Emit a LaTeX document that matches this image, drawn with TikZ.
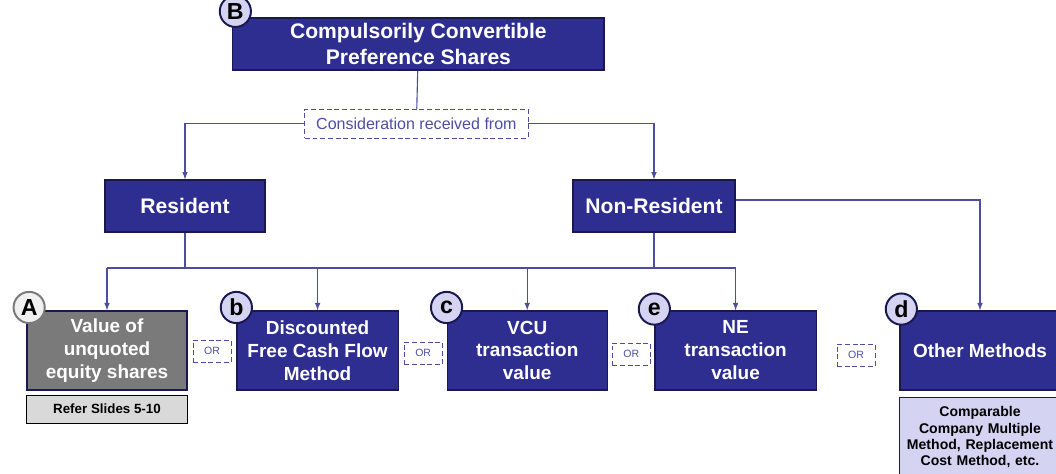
\documentclass[tikz,border=0pt]{standalone}
\usepackage{fontspec}
\setmainfont{Liberation Sans}
\usetikzlibrary{positioning}
\definecolor{navy}{RGB}{46,46,145}
\definecolor{navyline}{RGB}{25,25,80}
\definecolor{conn}{RGB}{78,78,160}
\definecolor{lav}{RGB}{212,212,242}
\definecolor{greybox}{RGB}{122,122,122}
\definecolor{lightgrey}{RGB}{217,217,217}
\tikzstyle{bluebox} = [rectangle,
fill=navy,
draw=navyline,
line width=0.9pt,
text=white,
align=center,
minimum width=4cm,
minimum height=1.975cm,
inner sep=1pt,
font=\bfseries\fontsize{13.5}{16.3}\selectfont]
\tikzstyle{notebox} = [rectangle,
draw=black,
line width=0.9pt,
align=center,
minimum width=4.03cm,
inner sep=1pt,
font=\bfseries\fontsize{9.5}{11.5}\selectfont]
\tikzstyle{dashbox} = [rectangle,
draw=conn,
line width=0.7pt,
dash pattern=on 3.5pt off 2pt,
text=conn]
\tikzstyle{tag} = [circle,
fill=lav,
draw=navyline,
line width=1.4pt,
minimum size=0.78cm,
inner sep=0pt,
font=\bfseries\fontsize{16.5}{16.5}\selectfont]
\tikzstyle{link} = [draw=conn, line width=0.8pt]

\begin{document}
\begin{tikzpicture}
		\useasboundingbox (0,0) rectangle (26.4,-11.825);
		\node (ccps) [bluebox, minimum width=9.28cm, minimum height=1.3cm, font=\bfseries\fontsize{15}{18.4}\selectfont] at (10.46,-1.1) {Compulsorily Convertible\\Preference Shares};
		\node (cons) [dashbox, minimum width=5.58cm, minimum height=0.72cm, font=\fontsize{11.4}{13}\selectfont] at (10.41,-3.09) {Consideration received from};
		\node (res) [bluebox, minimum height=1.3cm, font=\bfseries\fontsize{15}{18}\selectfont] at (4.625,-5.15) {Resident};
		\node (nres) [bluebox, minimum width=4.05cm, minimum height=1.3cm, font=\bfseries\fontsize{15}{18}\selectfont] at (16.35,-5.15) {Non-Resident};
		\coordinate (bus) at (0,-6.7);
		
		\node (vu) [bluebox, fill=greybox] at (2.675,-8.76) {Value of\\unquoted\\equity shares};
		\node (dcf) [bluebox, minimum width=4.03cm] at (7.94,-8.76) {Discounted\\Free Cash Flow\\Method};
		\node (vcu) [bluebox] at (13.18,-8.76) {VCU\\transaction\\value};
		\node (ne) [bluebox, minimum width=4.03cm] at (18.39,-8.76) {NE\\transaction\\value};
		\node (oth) [bluebox] at (24.5,-8.76) {Other Methods};
		
		\node (ref) [notebox, fill=lightgrey, minimum height=0.7cm, below=0.1cm of vu] {Refer Slides 5-10};
		\node (cmp) [notebox, fill=lav, draw=navyline, text width=3.9cm, minimum height=2cm, below=0.15cm of oth, font=\bfseries\fontsize{10}{11.5}\selectfont] {Comparable\\Company Multiple\\Method, Replacement\\Cost Method, etc.};
		
		\node (or1) [dashbox, minimum width=0.95cm, minimum height=0.55cm, font=\fontsize{7.5}{8}\selectfont] at (5.3,-8.78) {OR};
		\node (or2) [dashbox, minimum width=0.95cm, minimum height=0.55cm, font=\fontsize{7.5}{8}\selectfont] at (10.58,-8.83) {OR};
		\node (or3) [dashbox, minimum width=0.95cm, minimum height=0.55cm, font=\fontsize{7.5}{8}\selectfont] at (15.78,-8.85) {OR};
		\node (or4) [dashbox, minimum width=0.95cm, minimum height=0.55cm, font=\fontsize{7.5}{8}\selectfont] at (21.4,-8.88) {OR};
		
		\node (tb) [tag, xshift=0.08cm, yshift=0.15cm] at (ccps.north west) {B};
		\node (ta) [tag, fill=white!94!black, draw=greybox, xshift=0.07cm, yshift=0.07cm] at (vu.north west) {A};
		\node (tbb) [tag, yshift=0.07cm] at (dcf.north west) {b};
		\node (tc) [tag, yshift=0.07cm] at (vcu.north west) {c};
		\node (te) [tag, yshift=0.03cm] at (ne.north west) {e};
		\node (td) [tag, xshift=0.05cm, yshift=0.03cm] at (oth.north west) {d};
		
		\draw [link](ccps) -- (cons);
		\draw [link, -latex](cons.west) -| (res);
		\draw [link, -latex](cons.east) -| (nres);
		\draw [link](res.south) -- (res.south |- bus);
		\draw [link](nres.south) -- (nres.south |- bus);
		\draw [link](vu.north |- bus) -- (ne.north |- bus);
		\foreach \n in {vu,dcf,vcu,ne}
			\draw [link, -latex](\n.north |- bus) -- (\n.north);
		\draw [link, -latex]([yshift=0.15cm]nres.east) -| (oth);
	\end{tikzpicture}
\end{document}
